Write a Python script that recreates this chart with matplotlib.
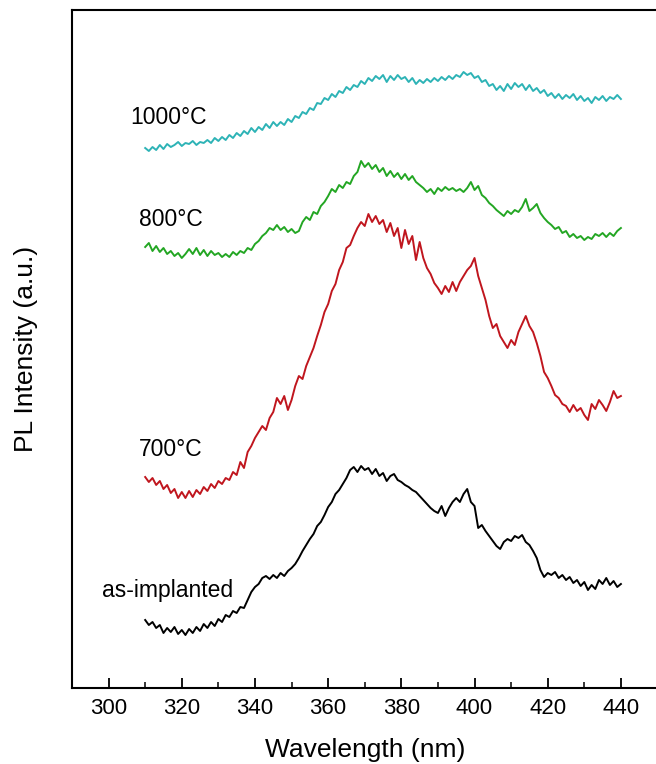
import matplotlib
matplotlib.use("Agg")
import matplotlib.pyplot as plt
from matplotlib.ticker import MultipleLocator

plt.rcParams['font.family'] = ['Liberation Sans', 'DejaVu Sans']

# wavelength grid (nm), shared by all four spectra
wavelength = list(range(310, 441))

# PL intensity (a.u.), curves are offset vertically as in the figure
as_implanted = [
    68, 63, 66, 60, 63, 55, 60, 56, 61, 54, 58, 53, 59, 55, 61, 57, 64, 60, 66, 62,
    69, 66, 73, 71, 77, 75, 81, 80, 88, 96, 101, 104, 110, 112, 109, 113, 110, 115, 112, 117,
    120, 124, 130, 137, 143, 149, 154, 162, 166, 173, 181, 186, 194, 198, 204, 210, 218, 221, 216, 222,
    218, 220, 214, 219, 212, 215, 207, 212, 214, 208, 206, 203, 201, 198, 196, 192, 188, 184, 180, 177,
    175, 182, 172, 180, 186, 190, 186, 194, 199, 186, 182, 160, 163, 157, 152, 147, 142, 139, 146, 149,
    147, 152, 150, 153, 146, 143, 137, 130, 118, 111, 115, 113, 116, 110, 113, 108, 111, 105, 108, 102,
    106, 98, 103, 99, 108, 104, 110, 103, 107, 101, 104,
]
t700 = [
    211, 206, 210, 203, 207, 199, 203, 195, 199, 190, 196, 190, 197, 191, 198, 194, 201, 197, 204, 200,
    207, 204, 210, 208, 216, 213, 226, 220, 236, 242, 250, 256, 262, 258, 270, 276, 290, 284, 292, 278,
    288, 302, 312, 309, 322, 331, 340, 352, 363, 376, 384, 397, 404, 418, 426, 440, 443, 452, 460, 466,
    462, 474, 466, 472, 464, 468, 456, 465, 452, 460, 440, 458, 444, 452, 428, 446, 430, 420, 414, 405,
    400, 394, 402, 396, 406, 397, 406, 412, 418, 422, 430, 412, 400, 388, 372, 360, 364, 352, 346, 340,
    348, 343, 356, 364, 372, 362, 356, 345, 332, 316, 310, 302, 293, 290, 284, 282, 276, 283, 277, 280,
    273, 268, 284, 279, 288, 283, 277, 286, 297, 290, 292,
]
t800 = [
    441, 445, 437, 442, 436, 440, 434, 437, 432, 435, 430, 434, 439, 434, 440, 433, 438, 432, 437, 433,
    435, 431, 434, 431, 436, 433, 437, 435, 440, 438, 444, 447, 452, 455, 460, 458, 463, 458, 461, 456,
    459, 455, 457, 466, 471, 468, 476, 474, 482, 486, 492, 499, 496, 503, 500, 506, 504, 512, 516, 527,
    521, 525, 519, 523, 516, 520, 512, 517, 511, 515, 509, 514, 508, 512, 506, 503, 500, 496, 499, 494,
    500, 497, 501, 498, 500, 497, 499, 496, 500, 506, 498, 502, 493, 490, 485, 482, 478, 475, 472, 477,
    474, 478, 476, 481, 489, 477, 480, 484, 475, 470, 466, 463, 459, 461, 455, 457, 451, 454, 450, 452,
    448, 451, 449, 454, 452, 455, 451, 455, 452, 457, 460,
]
t1000 = [
    540, 537, 541, 538, 543, 539, 544, 541, 543, 546, 542, 545, 544, 547, 543, 546, 545, 548, 545, 550,
    547, 551, 548, 553, 550, 555, 552, 557, 554, 560, 556, 561, 558, 564, 560, 566, 562, 566, 563, 569,
    566, 572, 570, 576, 574, 580, 578, 585, 584, 590, 588, 594, 591, 597, 595, 601, 598, 603, 601, 607,
    604, 610, 607, 612, 609, 613, 606, 612, 608, 613, 609, 611, 606, 610, 604, 608, 605, 609, 606, 610,
    607, 611, 608, 612, 609, 613, 611, 616, 613, 615, 610, 612, 606, 608, 602, 604, 598, 602, 597, 604,
    599, 605, 601, 604, 598, 603, 597, 600, 595, 598, 592, 595, 590, 594, 589, 593, 590, 594, 588, 592,
    587, 590, 585, 591, 588, 592, 587, 591, 589, 593, 589,
]

series = [as_implanted, t700, t800, t1000]
colors = ['black', '#c0161e', '#23a623', '#2db3b6']
labels = ['as-implanted', '700°C', '800°C', '1000°C']
label_x = [298.2, 308.3, 308.3, 305.9]
label_y = [98, 238, 469, 570]

fig = plt.figure(figsize=(6.56, 7.64), dpi=100)
ax = fig.add_axes([72 / 656, 1 - 688 / 764, 585.5 / 656, 678 / 764])

for vals, c in zip(series, colors):
    ax.plot(wavelength, vals, color=c, lw=1.4)

for txt, tx, ty in zip(labels, label_x, label_y):
    ax.text(tx, ty, txt, fontsize=16.5, ha='left', va='center')

ax.set_xlim(290, 450)
ax.set_ylim(0, 678)
ax.xaxis.set_major_locator(MultipleLocator(20))
ax.xaxis.set_minor_locator(MultipleLocator(10))
ax.tick_params(axis='x', which='major', direction='in', length=7, width=1.3,
               labelsize=16, pad=7)
ax.tick_params(axis='x', which='minor', direction='in', length=4, width=1.1)
ax.set_yticks([])
for s in ax.spines.values():
    s.set_linewidth(1.5)

ax.set_xlabel('Wavelength (nm)', fontsize=19, labelpad=14)
ax.set_ylabel('PL Intensity (a.u.)', fontsize=19)
ax.yaxis.set_label_coords(-0.058, 0.5)

fig.savefig('out.png', dpi=100)
